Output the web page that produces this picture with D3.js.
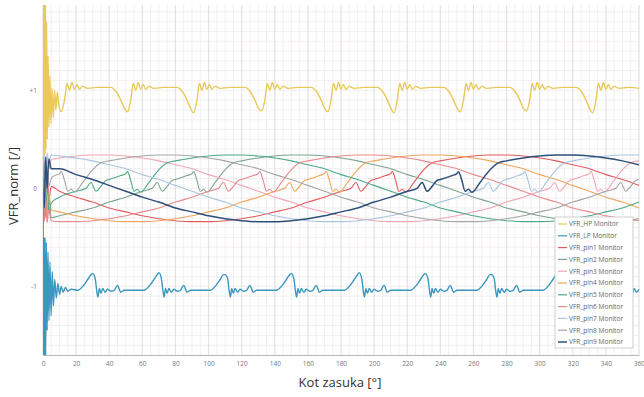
<!DOCTYPE html>
<html>
<head>
<meta charset="utf-8">
<script src="https://cdn.jsdelivr.net/npm/d3@7"></script>
<style>
  html, body { margin: 0; padding: 0; background: #fff; }
  svg { display: block; font-family: "Open Sans", "Noto Sans", sans-serif; }
</style>
</head>
<body>
<svg id="chart" width="644" height="397"></svg>
<script>
// tick labels
const xTicks = [0, 20, 40, 60, 80, 100, 120, 140, 160, 180, 200, 220, 240, 260, 280, 300, 320, 340, 360];
const yTicks = [-1, 0, 1];
const yTickLabels = ['-1', '0', '+1'];

const seriesNames = ['VFR_HP Monitor', 'VFR_LP Monitor', 'VFR_pin1 Monitor', 'VFR_pin2 Monitor', 'VFR_pin3 Monitor',
  'VFR_pin4 Monitor', 'VFR_pin5 Monitor', 'VFR_pin6 Monitor', 'VFR_pin7 Monitor', 'VFR_pin8 Monitor', 'VFR_pin9 Monitor'];
const seriesColors = ['#e9c95c', '#3a97c0', '#e15b5e', '#7ea48f', '#f1a7b4', '#f0a65c', '#4caa86', '#e98a8d', '#a9c5de', '#a5a5a5', '#2d4f7c'];

// [angle in deg, normalised value]
const hp = [[0,0.35],[0.3,1.95],[0.6,0.33],[0.9,1.95],[1.2,0.35],[1.5,1.9],[1.8,0.4],[2.2,1.7],[2.6,0.5],[3.1,1.35],[3.6,0.62],[4.2,1.15],[4.8,0.66],[5.5,1.02],[6.2,0.72],[7,1.0],[7.8,0.8],[8.6,0.98],[9.6,0.84],[11,0.78],
  [13,0.9],[14.5,1.07],[16,1.0],[17.5,1.08],[19,1.01],[20.5,1.06],[22,1.01],[24,1.04],[27,1.02],[33,1.03],
  [41,1.03],[44,0.99],[47,0.9],[49,0.82],[51,0.78],[53,0.9],[54.5,1.07],[56,1.0],[57.5,1.08],[59,1.01],[60.5,1.06],[62,1.01],[64,1.04],[67,1.02],[73,1.03],
  [81,1.03],[84,0.99],[87,0.9],[89,0.82],[91,0.77],[93,0.9],[94.5,1.07],[96,1.0],[97.5,1.08],[99,1.01],[100.5,1.06],[102,1.01],[104,1.04],[107,1.02],[113,1.03],
  [122,1.03],[125,0.99],[128,0.9],[130,0.82],[132,0.79],[134,0.9],[135.5,1.07],[137,1.0],[138.5,1.08],[140,1.01],[141.5,1.06],[143,1.01],[145,1.04],[148,1.02],[154,1.03],
  [162,1.03],[165,0.99],[168,0.9],[170,0.82],[172,0.78],[174,0.9],[175.5,1.07],[177,1.0],[178.5,1.08],[180,1.01],[181.5,1.06],[183,1.01],[185,1.04],[188,1.02],[194,1.03],
  [202,1.03],[205,0.99],[208,0.9],[210,0.82],[212,0.77],[214,0.9],[215.5,1.07],[217,1.0],[218.5,1.08],[220,1.01],[221.5,1.06],[223,1.01],[225,1.04],[228,1.02],[234,1.03],
  [242,1.03],[245,0.99],[248,0.9],[250,0.82],[252,0.78],[254,0.9],[255.5,1.07],[257,1.0],[258.5,1.08],[260,1.01],[261.5,1.06],[263,1.01],[265,1.04],[268,1.02],[274,1.03],
  [282,1.03],[285,0.99],[288,0.9],[290,0.82],[292,0.79],[294,0.9],[295.5,1.07],[297,1.0],[298.5,1.08],[300,1.01],[301.5,1.06],[303,1.01],[305,1.04],[308,1.02],[314,1.03],
  [322,1.03],[325,0.99],[328,0.9],[330,0.82],[332,0.77],[334,0.9],[335.5,1.07],[337,1.0],[338.5,1.08],[340,1.01],[341.5,1.06],[343,1.01],[345,1.04],[348,1.02],[354,1.03],[360,1.02]];

const lp = [[0,0.1],[0.3,-1.8],[0.6,-0.5],[0.9,-1.8],[1.2,-0.5],[1.6,-1.75],[2.0,-0.55],[2.5,-1.45],[3.0,-0.65],[3.6,-1.35],[4.2,-0.75],[4.9,-1.3],[5.6,-0.85],[6.3,-1.2],[7.1,-0.93],[8,-1.12],[9,-0.97],[10,-1.08],[11,-1.0],[12.2,-1.06],[13.5,-1.01],[15,-1.05],[17,-1.03],
  [21,-1.04],[24,-1.0],[27,-0.93],[29,-0.88],[30,-0.87],[31.5,-0.92],[32.5,-1.05],[33.2,-1.11],[34,-1.02],[35,-1.07],[36,-1.02],[37.5,-1.06],[39,-1.03],[41,-1.05],[43,-1.04],[45,-0.99],[47,-1.06],[49,-1.04],[55,-1.04],
  [61,-1.04],[64,-1.0],[67,-0.93],[69,-0.88],[70,-0.86],[71.5,-0.92],[72.5,-1.05],[73.2,-1.11],[74,-1.02],[75,-1.07],[76,-1.02],[77.5,-1.06],[79,-1.03],[81,-1.05],[83,-1.04],[85,-0.99],[87,-1.06],[89,-1.04],[95,-1.04],
  [101,-1.04],[104,-1.0],[107,-0.93],[109,-0.88],[110,-0.88],[111.5,-0.92],[112.5,-1.05],[113.2,-1.11],[114,-1.02],[115,-1.07],[116,-1.02],[117.5,-1.06],[119,-1.03],[121,-1.05],[123,-1.04],[125,-0.99],[127,-1.06],[129,-1.04],[135,-1.04],
  [141,-1.04],[144,-1.0],[147,-0.93],[149,-0.88],[150,-0.87],[151.5,-0.92],[152.5,-1.05],[153.2,-1.11],[154,-1.02],[155,-1.07],[156,-1.02],[157.5,-1.06],[159,-1.03],[161,-1.05],[163,-1.04],[165,-0.99],[167,-1.06],[169,-1.04],[175,-1.04],
  [182,-1.04],[185,-1.0],[188,-0.93],[190,-0.88],[191,-0.86],[192.5,-0.92],[193.5,-1.05],[194.2,-1.11],[195,-1.02],[196,-1.07],[197,-1.02],[198.5,-1.06],[200,-1.03],[202,-1.05],[204,-1.04],[206,-0.99],[208,-1.06],[210,-1.04],[216,-1.04],
  [222,-1.04],[225,-1.0],[228,-0.93],[230,-0.88],[231,-0.87],[232.5,-0.92],[233.5,-1.05],[234.2,-1.11],[235,-1.02],[236,-1.07],[237,-1.02],[238.5,-1.06],[240,-1.03],[242,-1.05],[244,-1.04],[246,-0.99],[248,-1.06],[250,-1.04],[256,-1.04],
  [262,-1.04],[265,-1.0],[268,-0.93],[270,-0.88],[271,-0.88],[272.5,-0.92],[273.5,-1.05],[274.2,-1.11],[275,-1.02],[276,-1.07],[277,-1.02],[278.5,-1.06],[280,-1.03],[282,-1.05],[284,-1.04],[286,-0.99],[288,-1.06],[290,-1.04],[296,-1.04],
  [302,-1.04],[305,-1.0],[308,-0.93],[310,-0.88],[311,-0.87],[312.5,-0.92],[313.5,-1.05],[314.2,-1.11],[315,-1.02],[316,-1.07],[317,-1.02],[318.5,-1.06],[320,-1.03],[322,-1.05],[324,-1.04],[326,-0.99],[328,-1.06],[330,-1.04],[336,-1.04],
  [342,-1.04],[345,-1.0],[348,-0.93],[350,-0.88],[351,-0.86],[352.5,-0.92],[353.5,-1.05],[354.2,-1.11],[355,-1.02],[356,-1.07],[357,-1.02],[358.5,-1.06],[360,-1.03]];

const pin1 = [[0,0],[0.8,0.3],[1.6,-0.28],[2.5,0.18],[3.5,-0.12],[5,0.02],[10,-0.03],[20,-0.09],[30,-0.14],[40,-0.2],[50,-0.24],[60,-0.28],[70,-0.31],[80,-0.33],[90,-0.34],[100,-0.34],[110,-0.33],[120,-0.31],[130,-0.28],[140,-0.24],[150,-0.2],[160,-0.14],[170,-0.09],[180,-0.03],[186,0.0],[189,0.06],[192,-0.03],[195,0.02],[198,0.08],[200,0.09],[207,0.13],[210,0.15],[211,0.17],[213,0.08],[215,-0.03],[217,-0.01],[219,-0.04],[224,0.06],[229,0.17],[235,0.26],[240,0.28],[250,0.31],[260,0.33],[270,0.34],[280,0.34],[290,0.33],[300,0.31],[310,0.28],[320,0.24],[330,0.2],[340,0.14],[350,0.09],[360,0.03]];
const pin2 = [[0,0],[0.8,-0.32],[1.6,0.2],[2.5,-0.3],[3.5,-0.1],[5,-0.3],[10,-0.28],[20,-0.24],[30,-0.2],[40,-0.14],[50,-0.09],[60,-0.03],[66,0.0],[69,0.06],[72,-0.03],[75,0.02],[78,0.08],[80,0.09],[87,0.13],[90,0.15],[91,0.17],[93,0.08],[95,-0.03],[97,-0.01],[99,-0.04],[104,0.06],[109,0.17],[115,0.26],[120,0.28],[130,0.31],[140,0.33],[150,0.34],[160,0.34],[170,0.33],[180,0.31],[190,0.28],[200,0.24],[210,0.2],[220,0.14],[230,0.09],[240,0.03],[250,-0.03],[260,-0.09],[270,-0.14],[280,-0.2],[290,-0.24],[300,-0.28],[310,-0.31],[320,-0.33],[330,-0.34],[340,-0.34],[350,-0.33],[360,-0.31]];
const pin3 = [[0,0],[0.8,0.34],[1.6,0.05],[2.5,0.33],[3.5,0.2],[5,0.29],[10,0.31],[20,0.33],[30,0.34],[40,0.34],[50,0.33],[60,0.31],[70,0.28],[80,0.24],[90,0.2],[100,0.14],[110,0.09],[120,0.03],[130,-0.03],[140,-0.09],[150,-0.14],[160,-0.2],[170,-0.24],[180,-0.28],[190,-0.31],[200,-0.33],[210,-0.34],[220,-0.34],[230,-0.33],[240,-0.31],[250,-0.28],[260,-0.24],[270,-0.2],[280,-0.14],[290,-0.09],[300,-0.03],[306,0.0],[309,0.06],[312,-0.03],[315,0.02],[318,0.08],[320,0.09],[327,0.13],[330,0.15],[331,0.17],[333,0.08],[335,-0.03],[337,-0.01],[339,-0.04],[344,0.06],[349,0.17],[355,0.26],[360,0.28]];
const pin4 = [[0,0],[0.8,-0.3],[1.6,0.12],[2.5,-0.34],[3.5,-0.05],[5,-0.22],[10,-0.24],[20,-0.28],[30,-0.31],[40,-0.33],[50,-0.34],[60,-0.34],[70,-0.33],[80,-0.31],[90,-0.28],[100,-0.24],[110,-0.2],[120,-0.14],[130,-0.09],[140,-0.03],[146,0.0],[149,0.06],[152,-0.03],[155,0.02],[158,0.08],[160,0.09],[167,0.13],[170,0.15],[171,0.17],[173,0.08],[175,-0.03],[177,-0.01],[179,-0.04],[184,0.06],[189,0.17],[195,0.26],[200,0.28],[210,0.31],[220,0.33],[230,0.34],[240,0.34],[250,0.33],[260,0.31],[270,0.28],[280,0.24],[290,0.2],[300,0.14],[310,0.09],[320,0.03],[330,-0.03],[340,-0.09],[350,-0.14],[360,-0.2]];
const pin5 = [[0,0],[0.8,0.25],[1.6,-0.3],[2.5,0.08],[3.5,-0.25],[5,-0.15],[10,-0.09],[20,-0.03],[26,0.0],[29,0.06],[32,-0.03],[35,0.02],[38,0.08],[40,0.09],[47,0.13],[50,0.15],[51,0.17],[53,0.08],[55,-0.03],[57,-0.01],[59,-0.04],[64,0.06],[69,0.17],[75,0.26],[80,0.28],[90,0.31],[100,0.33],[110,0.34],[120,0.34],[130,0.33],[140,0.31],[150,0.28],[160,0.24],[170,0.2],[180,0.14],[190,0.09],[200,0.03],[210,-0.03],[220,-0.09],[230,-0.14],[240,-0.2],[250,-0.24],[260,-0.28],[270,-0.31],[280,-0.33],[290,-0.34],[300,-0.34],[310,-0.33],[320,-0.31],[330,-0.28],[340,-0.24],[350,-0.2],[360,-0.14]];
const pin6 = [[0,0],[0.8,-0.34],[1.6,-0.1],[2.5,-0.35],[3.5,-0.22],[5,-0.33],[10,-0.34],[20,-0.34],[30,-0.33],[40,-0.31],[50,-0.28],[60,-0.24],[70,-0.2],[80,-0.14],[90,-0.09],[100,-0.03],[106,0.0],[109,0.06],[112,-0.03],[115,0.02],[118,0.08],[120,0.09],[127,0.13],[130,0.15],[131,0.17],[133,0.08],[135,-0.03],[137,-0.01],[139,-0.04],[144,0.06],[149,0.17],[155,0.26],[160,0.28],[170,0.31],[180,0.33],[190,0.34],[200,0.34],[210,0.33],[220,0.31],[230,0.28],[240,0.24],[250,0.2],[260,0.14],[270,0.09],[280,0.03],[290,-0.03],[300,-0.09],[310,-0.14],[320,-0.2],[330,-0.24],[340,-0.28],[350,-0.31],[360,-0.33]];
const pin7 = [[0,0],[0.8,0.33],[1.6,0.1],[2.5,0.36],[3.5,0.25],[5,0.34],[10,0.33],[20,0.31],[30,0.28],[40,0.24],[50,0.2],[60,0.14],[70,0.09],[80,0.03],[90,-0.03],[100,-0.09],[110,-0.14],[120,-0.2],[130,-0.24],[140,-0.28],[150,-0.31],[160,-0.33],[170,-0.34],[180,-0.34],[190,-0.33],[200,-0.31],[210,-0.28],[220,-0.24],[230,-0.2],[240,-0.14],[250,-0.09],[260,-0.03],[266,0.0],[269,0.06],[272,-0.03],[275,0.02],[278,0.08],[280,0.09],[287,0.13],[290,0.15],[291,0.17],[293,0.08],[295,-0.03],[297,-0.01],[299,-0.04],[304,0.06],[309,0.17],[315,0.26],[320,0.28],[330,0.31],[340,0.33],[350,0.34],[360,0.34]];
const pin8 = [[0,0],[0.8,0.28],[1.6,-0.12],[2.5,0.22],[3.5,0.02],[5,0.1],[7,0.13],[10,0.15],[11,0.17],[13,0.08],[15,-0.03],[17,-0.01],[19,-0.04],[24,0.06],[29,0.17],[35,0.26],[40,0.28],[50,0.31],[60,0.33],[70,0.34],[80,0.34],[90,0.33],[100,0.31],[110,0.28],[120,0.24],[130,0.2],[140,0.14],[150,0.09],[160,0.03],[170,-0.03],[180,-0.09],[190,-0.14],[200,-0.2],[210,-0.24],[220,-0.28],[230,-0.31],[240,-0.33],[250,-0.34],[260,-0.34],[270,-0.33],[280,-0.31],[290,-0.28],[300,-0.24],[310,-0.2],[320,-0.14],[330,-0.09],[340,-0.03],[346,0.0],[349,0.06],[352,-0.03],[355,0.02],[358,0.08],[360,0.09]];
const pin9 = [[0,0],[0.8,-0.2],[1.6,0.32],[2.5,0.0],[3.5,0.3],[5,0.2],[10,0.2],[20,0.14],[30,0.09],[40,0.03],[50,-0.03],[60,-0.09],[70,-0.14],[80,-0.2],[90,-0.24],[100,-0.28],[110,-0.31],[120,-0.33],[130,-0.34],[140,-0.34],[150,-0.33],[160,-0.31],[170,-0.28],[180,-0.24],[190,-0.2],[200,-0.14],[210,-0.09],[220,-0.03],[226,0.0],[229,0.06],[232,-0.03],[235,0.02],[238,0.08],[240,0.09],[247,0.13],[250,0.15],[251,0.17],[253,0.08],[255,-0.03],[257,-0.01],[259,-0.04],[264,0.06],[269,0.17],[275,0.26],[280,0.28],[290,0.31],[300,0.33],[310,0.34],[320,0.34],[330,0.33],[340,0.31],[350,0.28],[360,0.24]];

const series = [hp, lp, pin1, pin2, pin3, pin4, pin5, pin6, pin7, pin8, pin9];

const svg = d3.select('#chart');
const plot = { left: 43, right: 639, top: 5, bottom: 355 };

const x = d3.scaleLinear().domain([0, 360]).range([plot.left, plot.right]);
const y = d3.scaleLinear().domain([-1.7, 1.87]).range([plot.bottom, plot.top]);

svg.append('defs').append('clipPath').attr('id', 'plot-clip')
  .append('rect')
  .attr('x', plot.left).attr('y', plot.top)
  .attr('width', plot.right - plot.left + 1).attr('height', plot.bottom - plot.top);

// Grid (minor then major)
const grid = svg.append('g').attr('class', 'grid');
grid.selectAll('.vminor').data(x.ticks(90)).enter().append('line')
  .attr('x1', d => x(d)).attr('x2', d => x(d))
  .attr('y1', plot.top).attr('y2', plot.bottom)
  .attr('stroke', '#efe8e9').attr('stroke-width', 0.7);
grid.selectAll('.hminor').data(y.ticks(36)).enter().append('line')
  .attr('x1', plot.left).attr('x2', plot.right)
  .attr('y1', d => y(d)).attr('y2', d => y(d))
  .attr('stroke', '#efe8e9').attr('stroke-width', 0.7);
grid.selectAll('.vmajor').data(xTicks).enter().append('line')
  .attr('x1', d => x(d)).attr('x2', d => x(d))
  .attr('y1', plot.top).attr('y2', plot.bottom)
  .attr('stroke', '#e0dcdc').attr('stroke-width', 0.8);

// X Axis
const xAxis = svg.append('g')
  .attr('transform', `translate(0,${plot.bottom})`)
  .call(d3.axisBottom(x).tickValues(xTicks).tickSize(0).tickPadding(6));
xAxis.select('.domain').attr('stroke', '#b8b8b8');
xAxis.selectAll('text').attr('font-size', '6.5px').attr('fill', '#777').attr('font-family', '"Open Sans", sans-serif');

// Y Axis
const yAxis = svg.append('g')
  .attr('transform', `translate(${plot.left},0)`)
  .call(d3.axisLeft(y).tickValues(yTicks).tickFormat((d, i) => yTickLabels[i]).tickSize(0).tickPadding(6));
yAxis.select('.domain').attr('stroke', '#c8c8c8');
yAxis.selectAll('text').attr('font-size', '6.5px').attr('fill', '#777').attr('font-family', '"Open Sans", sans-serif');

// Axis titles
svg.append('text')
  .attr('x', 340).attr('y', 387)
  .attr('text-anchor', 'middle')
  .attr('font-size', '13px').attr('fill', '#333')
  .text('Kot zasuka [°]');
svg.append('text')
  .attr('transform', 'translate(18,186) rotate(-90)')
  .attr('text-anchor', 'middle')
  .attr('font-size', '13px').attr('fill', '#333')
  .text('VFR_norm [/]');

// Lines
const line = d3.line()
  .x(d => x(d[0]))
  .y(d => y(d[1]))
  .curve(d3.curveMonotoneX);

const lines = svg.append('g').attr('clip-path', 'url(#plot-clip)');
const drawOrder = [2, 3, 4, 5, 6, 7, 8, 9, 10, 1, 0];
drawOrder.forEach(i => {
  lines.append('path')
    .datum(series[i])
    .attr('fill', 'none')
    .attr('stroke', seriesColors[i])
    .attr('stroke-width', i === 10 ? 1.5 : (i < 2 ? 1.4 : 1.1))
    .attr('stroke-linejoin', 'round')
    .attr('d', line);
});

// Legend
const legend = svg.append('g').attr('transform', 'translate(555,217)');
legend.append('rect')
  .attr('width', 78).attr('height', 131)
  .attr('fill', '#fff').attr('stroke', '#c4c4c4').attr('stroke-width', 0.8);
const item = legend.selectAll('.item').data(seriesNames).enter().append('g')
  .attr('transform', (d, i) => `translate(0,${7 + i * 11.8})`);
item.append('line')
  .attr('x1', 3).attr('x2', 12)
  .attr('stroke', (d, i) => seriesColors[i])
  .attr('stroke-width', (d, i) => i === 10 ? 1.5 : 1.2);
item.append('text')
  .attr('x', 14).attr('dy', '0.35em')
  .attr('font-size', '6.6px').attr('fill', '#666')
  .text(d => d);
</script>
</body>
</html>
